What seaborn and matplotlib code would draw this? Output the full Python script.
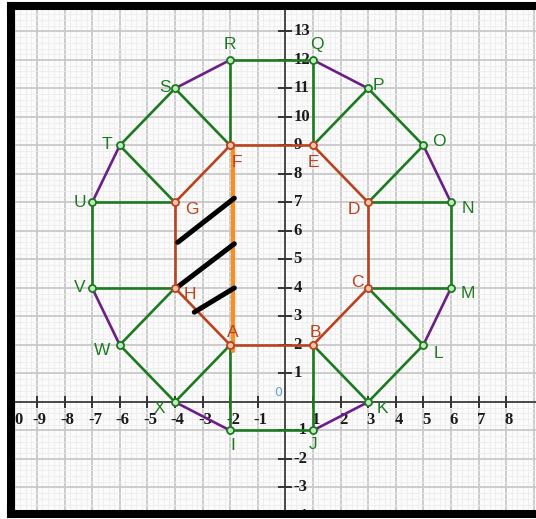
import numpy as np
import pandas as pd
import matplotlib
matplotlib.use("Agg")
import matplotlib.pyplot as plt
import seaborn as sns

# octagon vertices (inner)
inner_names = ["A", "B", "C", "D", "E", "F", "G", "H"]
inner_x = [-2, 1, 3, 3, 1, -2, -4, -4]
inner_y = [2, 2, 4, 7, 9, 9, 7, 4]

# outer 16-gon vertices
outer_names = ["I", "J", "K", "L", "M", "N", "O", "P",
               "Q", "R", "S", "T", "U", "V", "W", "X"]
outer_x = [-2, 1, 3, 5, 6, 6, 5, 3, 1, -2, -4, -6, -7, -7, -6, -4]
outer_y = [-1, -1, 0, 2, 4, 7, 9, 11, 12, 12, 11, 9, 7, 4, 2, 0]

# hand drawn marks
orange_x = [-1.9, -1.9]
orange_y = [1.8, 9.05]
hatch_x0 = [-3.9, -3.95, -3.3]
hatch_y0 = [5.6, 4.0, 3.15]
hatch_x1 = [-1.85, -1.85, -1.85]
hatch_y1 = [7.15, 5.55, 4.0]

x_ticks = [k for k in range(-10, 9) if k != 0]
y_ticks = [k for k in range(-4, 15) if k != 0]

# label offsets in points (layout only)
lab_off = {
    "A": (2, 9), "B": (2, 9), "C": (-8, 4), "D": (-10, -5), "E": (0, -12),
    "F": (5, -12), "G": (12, -5), "H": (11, -5),
    "I": (2, -11), "J": (0, -10), "K": (10, -5), "L": (11, -6), "M": (12, -4),
    "N": (12, -4), "O": (11, 3), "P": (7, 2), "Q": (3, 11), "R": (0, 11),
    "S": (-7, 1), "T": (-9, 1), "U": (-9, 0), "V": (-9, 0), "W": (-13, -4),
    "X": (-11, -5),
}

green = "#1d7a20"
purple = "#6b1f86"
brown = "#b8431e"
orange = "#f7901f"

# build segments
pts = {n: (x, y) for n, x, y in zip(inner_names, inner_x, inner_y)}
pts.update({n: (x, y) for n, x, y in zip(outer_names, outer_x, outer_y)})
segs = []
for k in range(8):
    a, b = inner_names[k], inner_names[(k + 1) % 8]
    o1, o2, o3 = outer_names[2 * k], outer_names[2 * k + 1], outer_names[(2 * k + 2) % 16]
    segs.append((a, o1, "green"))
    segs.append((b, o2, "green"))
    segs.append((o1, o2, "green"))
    segs.append((o2, o3, "purple"))
for k in range(8):
    segs.append((inner_names[k], inner_names[(k + 1) % 8], "brown"))
rows = []
for i, (p, q, kind) in enumerate(segs):
    for n in (p, q):
        rows.append({"seg": i, "x": pts[n][0], "y": pts[n][1], "kind": kind})
df = pd.DataFrame(rows)

sns.set_style("white")
fig = plt.figure(figsize=(5.36, 5.19), dpi=100)
ax = fig.add_axes([11 / 536, 5 / 519, 1 - 11 / 536, (514 - 5.5) / 519])
ax.set_facecolor("#fbfbfb")

# coordinate axes
ax.axhline(0, color="#333333", lw=1.2, zorder=1)
ax.axvline(0, color="#333333", lw=1.2, zorder=1)
ax.plot(x_ticks, [0] * len(x_ticks), ls="none", marker="|", ms=9, mew=1.4, color="#333333", zorder=1)
ax.plot([0] * len(y_ticks), y_ticks, ls="none", marker="_", ms=10, mew=1.4, color="#333333", zorder=1)
for k in x_ticks:
    ax.annotate(str(k), (k, 0), xytext=(2, -13), textcoords="offset points",
                ha="center", va="center", fontsize=12, fontweight="bold",
                family="Liberation Serif", color="#1a1a1a", zorder=1,
                annotation_clip=False, clip_on=True)
for k in y_ticks:
    ax.annotate(str(k), (0, k), xytext=(6, 0), textcoords="offset points",
                ha="left", va="center", fontsize=12, fontweight="bold",
                family="Liberation Serif", color="#1a1a1a", zorder=1,
                annotation_clip=False, clip_on=True)
ax.annotate("0", (0, 0), xytext=(-5, 7), textcoords="offset points",
            ha="center", va="center", fontsize=9, color="#6a9cc8", zorder=1)

sns.lineplot(data=df, x="x", y="y", units="seg", estimator=None, hue="kind",
             palette={"green": green, "purple": purple, "brown": brown},
             sort=False, legend=False, lw=1.9, ax=ax, zorder=3)

# orange line and hatches
sns.lineplot(x=orange_x, y=orange_y, estimator=None, color=orange, lw=3,
             sort=False, ax=ax, zorder=4)
for x0, y0, x1, y1 in zip(hatch_x0, hatch_y0, hatch_x1, hatch_y1):
    ax.plot([x0, x1], [y0, y1], color="black", lw=3.6, solid_capstyle="round", zorder=5)

sns.scatterplot(x=outer_x, y=outer_y, s=26, color="#bfe8bf", edgecolor=green,
                linewidth=1.3, ax=ax, zorder=6)
sns.scatterplot(x=inner_x, y=inner_y, s=26, color="#f3c2b0", edgecolor=brown,
                linewidth=1.3, ax=ax, zorder=6)

for names, xs, ys, col in ((outer_names, outer_x, outer_y, green),
                           (inner_names, inner_x, inner_y, brown)):
    for n, x, y in zip(names, xs, ys):
        ax.annotate(n, (x, y), xytext=lab_off[n], textcoords="offset points",
                    ha="center", va="center", fontsize=12.5,
                    family="Liberation Sans", color=col, zorder=4)

ax.set_xticks(np.arange(-10, 10))
ax.set_yticks(np.arange(-4, 15))
ax.set_xticks(np.arange(-10, 10, 0.2), minor=True)
ax.set_yticks(np.arange(-4, 15, 0.2), minor=True)
ax.set_xlim(-9.94, 9.08)
ax.set_ylim(-3.93, 13.91)
ax.grid(which="major", color="#c9c9c9", lw=1.3)
ax.grid(which="minor", color="#ececec", lw=0.6)
ax.tick_params(which="both", length=0, labelbottom=False, labelleft=False)
ax.set_axisbelow(True)
for side in ["left", "top", "bottom"]:
    ax.spines[side].set_color("black")
    ax.spines[side].set_linewidth(5.8)
ax.spines["right"].set_visible(False)
ax.set_xlabel("")
ax.set_ylabel("")
fig.savefig("out.png", dpi=100, facecolor="white")
